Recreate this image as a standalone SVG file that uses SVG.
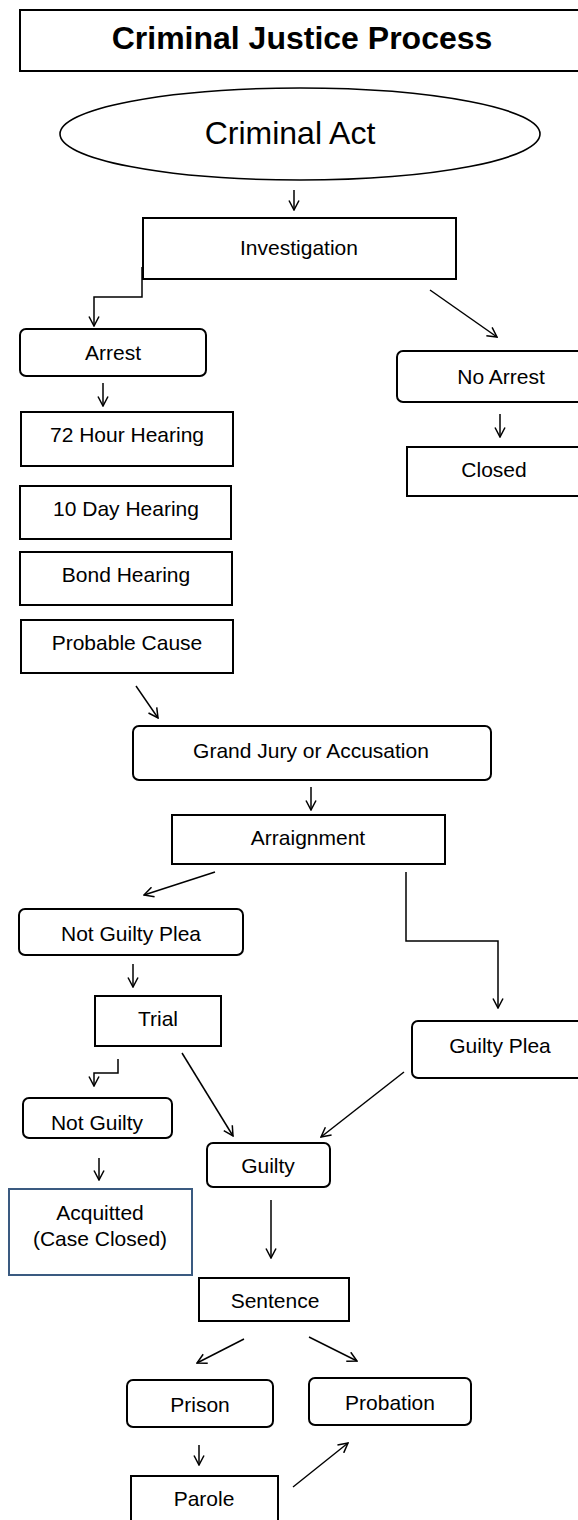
<svg xmlns="http://www.w3.org/2000/svg" width="578" height="1520" viewBox="0 0 578 1520">
<defs>
<marker id="ah" viewBox="0 0 12 12" refX="11" refY="6" markerWidth="12" markerHeight="12" markerUnits="userSpaceOnUse" orient="auto">
<path d="M1.5,1 L11,6 L1.5,11" fill="none" stroke="#000" stroke-width="1.5"/>
</marker>
<style>
.b{fill:#fff;stroke:#000;stroke-width:2}
.a{fill:#fff;stroke:#3a5a80;stroke-width:2}
.t{font-family:"Liberation Sans",Arial,sans-serif;font-size:21px;fill:#000;text-anchor:middle}
.c{fill:none;stroke:#000;stroke-width:1.5;marker-end:url(#ah)}
</style>
</defs>
<rect width="578" height="1520" fill="#fff"/>
<g id="title"><rect class="b" x="20" y="10" width="580" height="61"/><text class="t" x="302" y="49" style="font-size:32px;font-weight:bold">Criminal Justice Process</text></g>
<g id="criminal-act"><ellipse class="b" cx="300" cy="134" rx="240" ry="46" style="stroke-width:1.6"/><text class="t" x="290" y="144" style="font-size:32px">Criminal Act</text></g>
<g id="investigation"><rect class="b" x="143" y="218" width="313" height="61"/><text class="t" x="299" y="255">Investigation</text></g>
<g id="arrest"><rect class="b" x="20" y="329" width="186" height="47" rx="6"/><text class="t" x="113" y="360">Arrest</text></g>
<g id="no-arrest"><rect class="b" x="397" y="351" width="200" height="51" rx="6"/><text class="t" x="501" y="384">No Arrest</text></g>
<g id="h72"><rect class="b" x="21" y="412" width="212" height="54"/><text class="t" x="127" y="442">72 Hour Hearing</text></g>
<g id="closed"><rect class="b" x="407" y="447" width="190" height="49"/><text class="t" x="494" y="477">Closed</text></g>
<g id="h10"><rect class="b" x="20" y="486" width="211" height="53"/><text class="t" x="126" y="516">10 Day Hearing</text></g>
<g id="bond"><rect class="b" x="20" y="552" width="212" height="53"/><text class="t" x="126" y="582">Bond Hearing</text></g>
<g id="probable"><rect class="b" x="21" y="620" width="212" height="53"/><text class="t" x="127" y="650">Probable Cause</text></g>
<g id="grand-jury"><rect class="b" x="133" y="726" width="358" height="54" rx="6"/><text class="t" x="311" y="758">Grand Jury or Accusation</text></g>
<g id="arraignment"><rect class="b" x="172" y="815" width="273" height="49"/><text class="t" x="308" y="845">Arraignment</text></g>
<g id="not-guilty-plea"><rect class="b" x="19" y="909" width="224" height="46" rx="6"/><text class="t" x="131" y="941">Not Guilty Plea</text></g>
<g id="trial"><rect class="b" x="95" y="996" width="126" height="50"/><text class="t" x="158" y="1026">Trial</text></g>
<g id="guilty-plea"><rect class="b" x="412" y="1021" width="190" height="57" rx="6"/><text class="t" x="500" y="1053">Guilty Plea</text></g>
<g id="not-guilty"><rect class="b" x="23" y="1098" width="149" height="40" rx="6"/><text class="t" x="97" y="1130">Not Guilty</text></g>
<g id="guilty"><rect class="b" x="207" y="1143" width="123" height="44" rx="6"/><text class="t" x="268" y="1173">Guilty</text></g>
<g id="acquitted"><rect class="a" x="9" y="1189" width="183" height="86"/><text class="t" x="100" y="1220">Acquitted</text><text class="t" x="100" y="1246">(Case Closed)</text></g>
<g id="sentence"><rect class="b" x="199" y="1278" width="150" height="43"/><text class="t" x="275" y="1308">Sentence</text></g>
<g id="prison"><rect class="b" x="127" y="1380" width="146" height="47" rx="6"/><text class="t" x="200" y="1412">Prison</text></g>
<g id="probation"><rect class="b" x="309" y="1378" width="162" height="47" rx="6"/><text class="t" x="390" y="1410">Probation</text></g>
<g id="parole"><rect class="b" x="131" y="1476" width="147" height="60"/><text class="t" x="204" y="1506">Parole</text></g>
<g id="connectors">
<path class="c" d="M294,190 V210"/>
<path class="c" d="M142,267 V297 H94 V326"/>
<path class="c" d="M430,290 L497,337"/>
<path class="c" d="M103,383 V406"/>
<path class="c" d="M500,414 V437"/>
<path class="c" d="M136,686 L158,718"/>
<path class="c" d="M311,787 V810"/>
<path class="c" d="M215,872 L144,895"/>
<path class="c" d="M406,872 V941 H498 V1008"/>
<path class="c" d="M133,964 V987"/>
<path class="c" d="M118,1059 V1073 H94 V1086"/>
<path class="c" d="M182,1053 L233,1136"/>
<path class="c" d="M404,1072 L321,1137"/>
<path class="c" d="M99,1158 V1180"/>
<path class="c" d="M271,1200 V1258"/>
<path class="c" d="M244,1339 L197,1363"/>
<path class="c" d="M309,1337 L357,1361"/>
<path class="c" d="M199,1445 V1465"/>
<path class="c" d="M293,1487 L348,1443"/>
</g>
</svg>
